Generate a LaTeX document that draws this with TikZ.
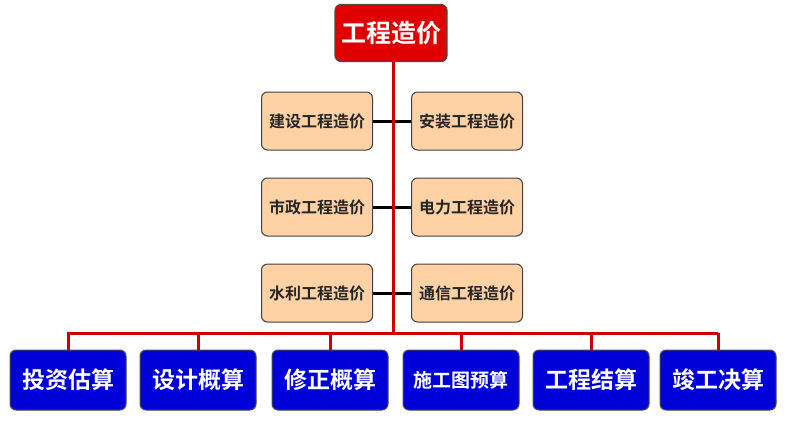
\documentclass[tikz,border=0pt]{standalone}
\usepackage{fontspec}
\newfontfamily\cjk{Noto Sans CJK SC}
\newfontfamily\cjkb{Noto Sans CJK SC Bold}
\begin{document}
\begin{tikzpicture}[x=1pt,y=-1pt,
 top/.style={draw=black!70,line width=1.2pt,fill=red!88!black,rounded corners=6pt,minimum width=112pt,minimum height=57pt,text=white,font=\cjkb\fontsize{25}{27}\selectfont},
 mid/.style={draw=black!75,line width=1pt,fill=orange!35!white,rounded corners=6pt,minimum width=111pt,minimum height=58pt,inner sep=2pt,text=black!85,font=\cjkb\fontsize{16}{18}\selectfont},
 bot/.style={draw=black!70,line width=1pt,fill=blue!85!black,rounded corners=6pt,minimum width=116pt,minimum height=60pt,inner sep=2pt,text=white,font=\cjkb\fontsize{23}{25}\selectfont},
 red/.style={draw=red!80!black,line width=3pt},
 blk/.style={draw=black,line width=3pt}]
\useasboundingbox (0,0) rectangle (792,424);
\node[top] (t) at (391,33) {工程造价};
\coordinate (j) at (393,333);
\coordinate (jl) at (67,333);
\coordinate (jr) at (718,333);
\node[mid] (a1) at (317,121) {建设工程造价};
\node[mid] (b1) at (467,121) {安装工程造价};
\node[mid] (a2) at (317,207) {市政工程造价};
\node[mid] (b2) at (467,207) {电力工程造价};
\node[mid] (a3) at (317,293) {水利工程造价};
\node[mid] (b3) at (467,293) {通信工程造价};
\foreach \i in {1,2,3}{\draw[blk] (a\i.east) -- (b\i.west);}
\draw[red] (t.south -| j) -- (j);
\draw[red] (jl) -- (jr);
\node[bot] (c1) at (68,380) {投资估算};
\node[bot] (c2) at (198,380) {设计概算};
\node[bot] (c3) at (330,380) {修正概算};
\node[bot,font=\cjkb\fontsize{19}{21}\selectfont] (c4) at (461,380) {施工图预算};
\node[bot] (c5) at (591,380) {工程结算};
\node[bot] (c6) at (718,380) {竣工决算};
\foreach \i in {1,...,6}{\draw[red] (c\i.north |- j) -- (c\i.north);}
\end{tikzpicture}
\end{document}
